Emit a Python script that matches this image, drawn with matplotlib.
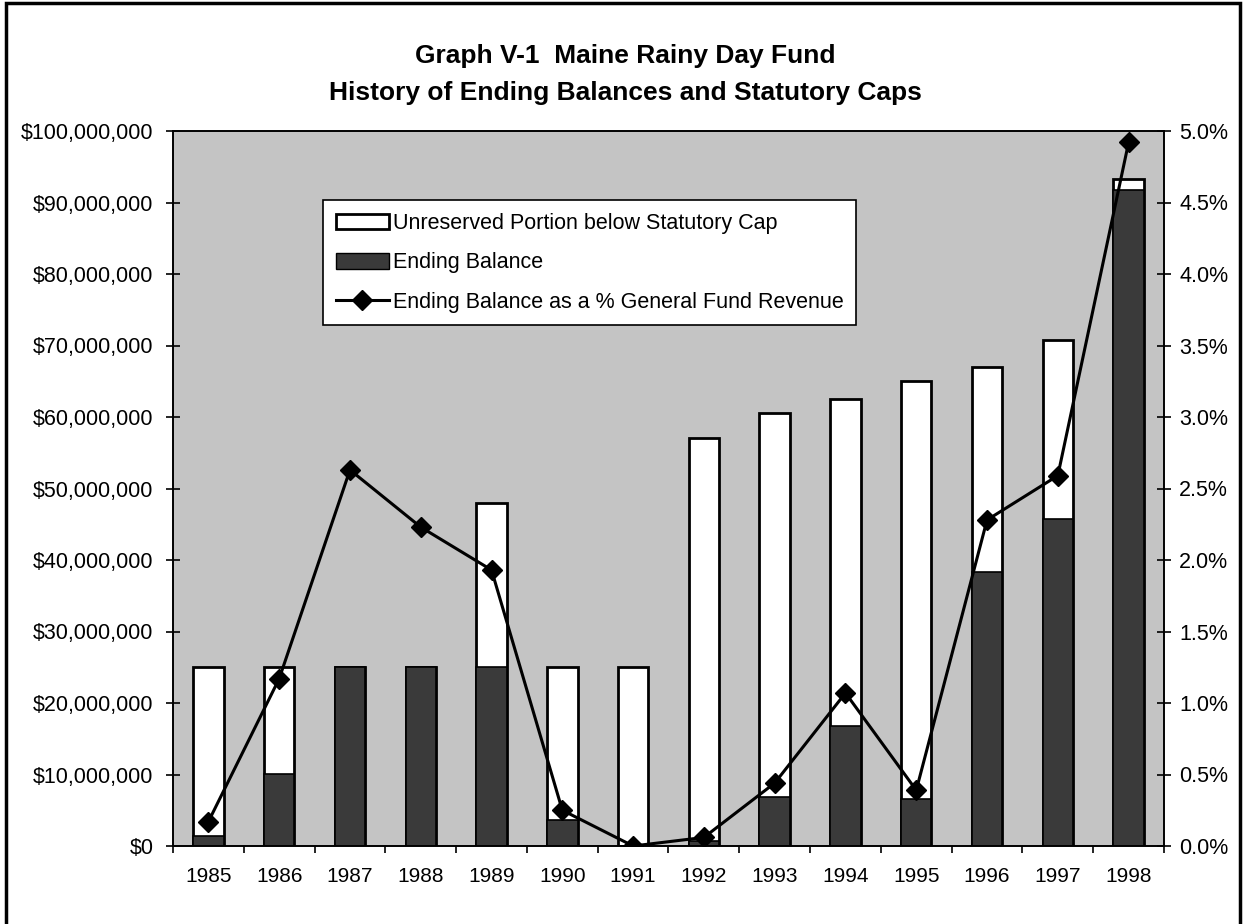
import numpy as np
import matplotlib
matplotlib.use("Agg")
import matplotlib.pyplot as plt
from matplotlib.ticker import FuncFormatter, FixedLocator
from matplotlib.patches import Rectangle, Patch
from matplotlib.lines import Line2D

plt.rcParams['font.family'] = ['Liberation Sans', 'DejaVu Sans']

# data (dollars in millions, share in %)
years = ['1985', '1986', '1987', '1988', '1989', '1990', '1991',
         '1992', '1993', '1994', '1995', '1996', '1997', '1998']
statutory_cap = [25, 25, 25, 25, 48, 25, 25, 57, 60.5, 62.5, 65, 67, 70.8, 93.3]
ending_balance = [1.4, 10.1, 25, 25, 25, 3.7, 0, 0.7, 6.8, 16.8, 6.6, 38.3, 45.8, 91.8]
pct_of_revenue = [0.17, 1.17, 2.63, 2.23, 1.93, 0.25, 0.0, 0.06, 0.44, 1.07, 0.39, 2.28, 2.59, 4.92]

bg_gray = '#c4c4c4'
dark = '#3a3a3a'

fig = plt.figure(figsize=(12.43, 9.24), dpi=100)
ax = fig.add_axes([173/1243, 1 - 846/924, (1164 - 173)/1243, (846 - 131)/924])
ax.set_facecolor(bg_gray)

x = np.arange(len(years))
caps = np.array(statutory_cap) * 1e6
eb = np.array(ending_balance) * 1e6
w = 0.43

ax.bar(x, caps, width=w, color='white', edgecolor='black', linewidth=2, zorder=2)
ax.bar(x, eb, width=w, color=dark, edgecolor='black', linewidth=1.2, zorder=3)

ax.set_xlim(-0.5, len(years) - 0.5)
ax.set_ylim(0, 100e6)
ax.yaxis.set_major_locator(FixedLocator(np.arange(0, 100e6 + 1, 10e6)))
ax.yaxis.set_major_formatter(FuncFormatter(lambda v, p: '${:,.0f}'.format(v)))
ax.tick_params(axis='y', direction='inout', length=10, width=1.2, labelsize=15.5, pad=9)
ax.set_xticks(x)
ax.set_xticklabels(years)
ax.set_xticks(np.arange(-0.5, len(years)), minor=True)
ax.tick_params(axis='x', which='major', length=0, labelsize=15, pad=15)
ax.tick_params(axis='x', which='minor', direction='out', length=5, width=1.2)
for s in ax.spines.values():
    s.set_linewidth(1.2)

ax2 = ax.twinx()
ax2.set_ylim(0, 5.0)
ax2.plot(x, pct_of_revenue, color='black', linewidth=2.2, marker='D', markersize=10,
         zorder=5)
ax2.yaxis.set_major_locator(FixedLocator(np.arange(0, 5.01, 0.5)))
ax2.yaxis.set_major_formatter(FuncFormatter(lambda v, p: '{:.1f}%'.format(v)))
ax2.tick_params(axis='y', direction='inout', length=10, width=1.2, labelsize=15.5, pad=6)
for s in ax2.spines.values():
    s.set_linewidth(1.2)

handles = [Patch(facecolor='white', edgecolor='black', linewidth=2),
           Patch(facecolor=dark, edgecolor='black', linewidth=1),
           Line2D([], [], color='black', linewidth=2.2, marker='D', markersize=10)]
labels = ['Unreserved Portion below Statutory Cap', 'Ending Balance',
          'Ending Balance as a % General Fund Revenue']
leg = ax2.legend(handles, labels, loc='upper left', bbox_to_anchor=(0.151, 0.9035),
                 borderaxespad=0, fontsize=15.5, frameon=True, fancybox=False,
                 edgecolor='black', framealpha=1, handlelength=2.5, handleheight=0.75,
                 handletextpad=0.15, labelspacing=0.85, borderpad=0.6)
leg.get_frame().set_linewidth(1.2)

fig.text(625/1243, 1 - 63/924, 'Graph V-1  Maine Rainy Day Fund', ha='center',
         va='baseline', fontsize=19, fontweight='bold')
fig.text(625/1243, 1 - 100/924, 'History of Ending Balances and Statutory Caps', ha='center',
         va='baseline', fontsize=19, fontweight='bold')

# outer frame of the page chart
fig.patches.append(Rectangle((6/1243, -0.05), 1240/1243 - 6/1243, 1.05 - 3/924,
                             transform=fig.transFigure, fill=False,
                             edgecolor='black', linewidth=2.5))

fig.savefig('out.png', dpi=100)
